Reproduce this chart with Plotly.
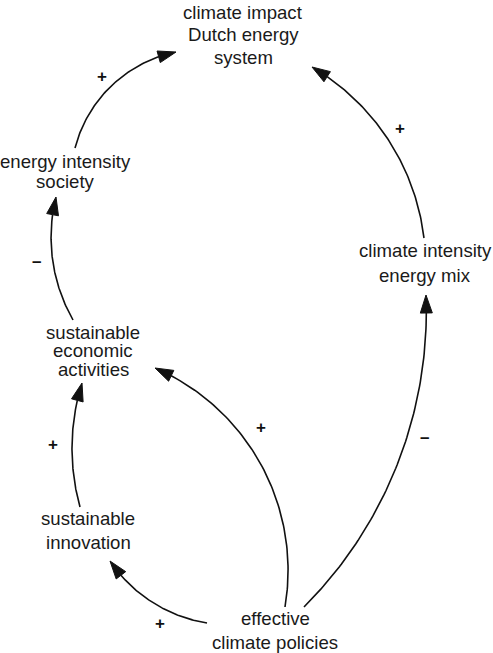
import math
import plotly.graph_objects as go

# ---- diagram content ----
node_lines = [
    ["climate impact", "Dutch energy", "system"],
    ["energy intensity", "society"],
    ["climate intensity", "energy mix"],
    ["sustainable", "economic", "activities"],
    ["sustainable", "innovation"],
    ["effective", "climate policies"],
]
link_source = [1, 2, 3, 5, 5, 4, 5]
link_target = [0, 0, 1, 3, 2, 3, 4]
link_polarity = ["+", "+", "–", "+", "–", "+", "+"]

# ---- layout (pixel space of the 493x653 canvas) ----
node_x = [243, 65, 425, 93, 88, 275]
node_first_y = [12, 161, 250, 332, 518, 618]
node_line_gap = [22.5, 20.5, 25, 18.5, 24, 24]
link_start = [(75, 148), (424, 238), (73, 320), (285, 607), (304, 607), (80, 507), (207, 623)]
link_end = [(176, 52), (312, 67), (56, 197), (155, 368), (426, 295), (82, 383), (110, 561)]
link_bulge = [20, -24, 12, -47, -35, 9, 12]
sign_x = [102, 400, 36, 261, 424, 53, 160]
sign_y = [76, 128, 261, 427, 437, 444, 623]

W, H = 493, 653
HEAD_LEN, HEAD_HALF = 18, 6
INK = "#111111"
FONT = "Liberation Sans, Arial, Helvetica, sans-serif"


def arc_points(p0, p2, h, n=80):
    x0, y0 = p0
    x2, y2 = p2
    dx, dy = x2 - x0, y2 - y0
    L = math.hypot(dx, dy)
    nx, ny = dy / L, -dx / L
    mx, my = (x0 + x2) / 2, (y0 + y2) / 2
    R = (L * L / 4 + h * h) / (2 * h)
    cx, cy = mx + nx * (h - R), my + ny * (h - R)
    r = abs(R)
    a0 = math.atan2(y0 - cy, x0 - cx)
    a2 = math.atan2(y2 - cy, x2 - cx)
    d = (a2 - a0 + math.pi) % (2 * math.pi) - math.pi
    dhead = HEAD_LEN / r
    sweep = d - math.copysign(dhead, d)
    xs, ys = [], []
    for i in range(n + 1):
        a = a0 + sweep * i / n
        xs.append(cx + r * math.cos(a))
        ys.append(cy + r * math.sin(a))
    base = (xs[-1], ys[-1])
    return xs, ys, base


fig = go.Figure()

for i in range(len(link_source)):
    xs, ys, base = arc_points(link_start[i], link_end[i], link_bulge[i])
    fig.add_trace(go.Scatter(x=xs, y=ys, mode="lines",
                             line=dict(color=INK, width=1.6),
                             hoverinfo="skip", showlegend=False))
    tx, ty = link_end[i]
    ux, uy = tx - base[0], ty - base[1]
    ul = math.hypot(ux, uy)
    ux, uy = ux / ul, uy / ul
    bx, by = tx - ux * HEAD_LEN, ty - uy * HEAD_LEN
    px, py = -uy, ux
    fig.add_trace(go.Scatter(
        x=[tx, bx + px * HEAD_HALF, bx - px * HEAD_HALF, tx],
        y=[ty, by + py * HEAD_HALF, by - py * HEAD_HALF, ty],
        mode="lines", fill="toself", fillcolor=INK,
        line=dict(color=INK, width=1), hoverinfo="skip", showlegend=False))

annotations = []
for i, lines in enumerate(node_lines):
    for j, line in enumerate(lines):
        annotations.append(dict(x=node_x[i], y=node_first_y[i] + j * node_line_gap[i],
                                xref="x", yref="y", text=line, showarrow=False,
                                xanchor="center", yanchor="middle", align="center",
                                font=dict(family=FONT, size=18.6, color="#1a1a1a")))
for i, s in enumerate(link_polarity):
    annotations.append(dict(x=sign_x[i], y=sign_y[i], xref="x", yref="y",
                            text="<b>" + s + "</b>", showarrow=False,
                            xanchor="center", yanchor="middle",
                            font=dict(family=FONT, size=17, color=INK)))

fig.update_layout(
    width=W, height=H,
    margin=dict(l=0, r=0, t=0, b=0),
    paper_bgcolor="white", plot_bgcolor="white",
    xaxis=dict(range=[0, W], visible=False, fixedrange=True),
    yaxis=dict(range=[H, 0], visible=False, fixedrange=True),
    annotations=annotations,
    showlegend=False,
)

fig.write_html("out.html", config={"displayModeBar": False},
               post_script="document.body.style.margin='0';document.body.style.overflow='hidden';")
